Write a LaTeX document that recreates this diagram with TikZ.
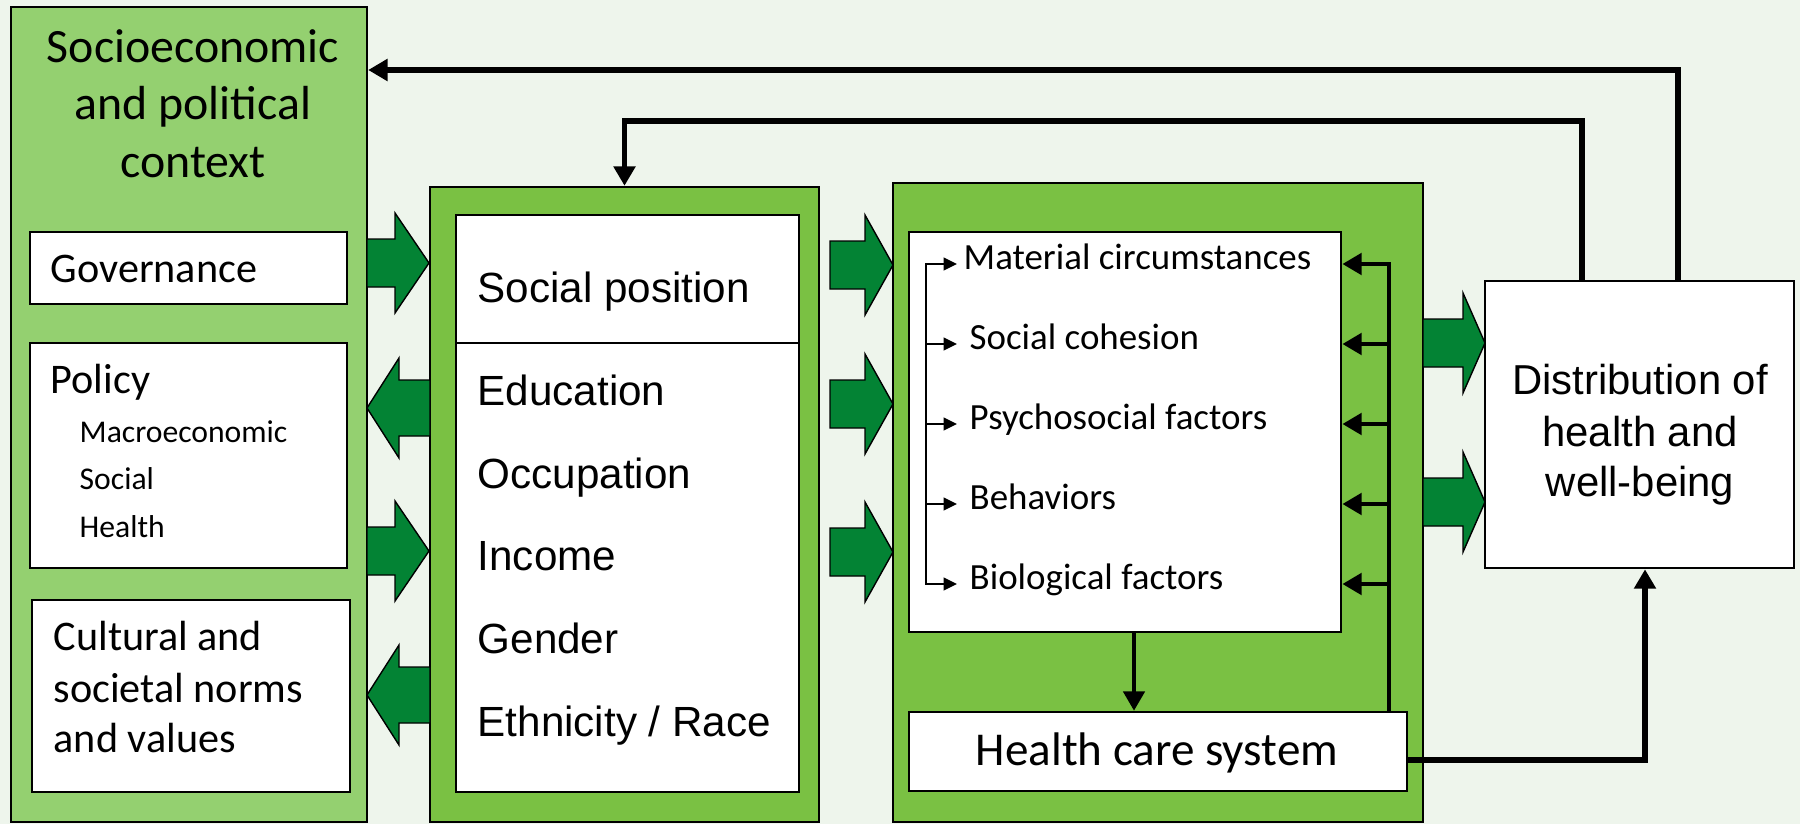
\documentclass[tikz,border=0pt]{standalone}
\usepackage{fontspec}
\setmainfont{Carlito}
\newfontfamily\arialfont{Liberation Sans}
\usetikzlibrary{arrows.meta}

\definecolor{bgc}{RGB}{238,245,236}
\definecolor{ctxc}{RGB}{148,208,112}
\definecolor{grnc}{RGB}{122,193,67}
\definecolor{arrc}{RGB}{3,131,52}

\begin{document}
\begin{tikzpicture}[x=0.01cm, y=-0.01cm,
    panel/.style={draw, line width=0.6pt, inner sep=0pt},
    wbox/.style={draw, fill=white, line width=0.7pt, inner sep=0pt},
    lbl/.style={anchor=base west, inner sep=0pt},
    ctr/.style={anchor=base, inner sep=0pt},
    block/.style={draw, fill=arrc, line width=0.4pt, line join=miter},
    fb/.style={line width=1.6pt, -{Triangle[length=5.5pt, width=6pt]}},
    tick/.style={line width=0.6pt, -{Triangle[length=3.8pt, width=3.6pt]}}]
    \useasboundingbox (0,0) rectangle (1800,824);
    \fill[bgc] (0,0) rectangle (1800,824);

    % panels
    \node[panel, fill=ctxc, minimum width=3.56cm, minimum height=8.15cm] (ctx) at (189,414.5) {};
    \node[panel, fill=grnc, minimum width=3.89cm, minimum height=6.35cm] (pos) at (624.5,504.5) {};
    \node[panel, fill=grnc, minimum width=5.30cm, minimum height=6.39cm] (cond) at (1158,502.5) {};

    % white boxes
    \node[wbox, minimum width=3.17cm, minimum height=0.72cm] (gov) at (188.5,268) {};
    \node[wbox, minimum width=3.17cm, minimum height=2.25cm] (pol) at (188.5,455.5) {};
    \node[wbox, minimum width=3.18cm, minimum height=1.92cm] (cul) at (191,696) {};
    \node[wbox, minimum width=3.43cm, minimum height=1.28cm] (posh) at (627.5,279) {};
    \node[wbox, minimum width=3.43cm, minimum height=4.49cm] (posl) at (627.5,567.5) {};
    \node[wbox, minimum width=4.32cm, minimum height=4.00cm] (condin) at (1125,432) {};
    \node[wbox, minimum width=4.98cm, minimum height=0.79cm] (hcs) at (1158,751.5) {};
    \node[wbox, minimum width=3.09cm, minimum height=2.87cm] (dist) at (1639.5,424.5) {};

    % green block arrows between panels
    \foreach \xa/\xb/\xc/\yy/\s in {367/395/429/263/24, 430/399/367/408/28, 367/395/429/551/24,
                                     430/399/367/695/28, 830/865/893/265/24, 830/865/893/404/24,
                                     830/865/893/552/24, 1423/1463/1485/343/24, 1423/1463/1485/502/24} {
        \draw[block] (\xa,\yy-\s) -- (\xb,\yy-\s) -- (\xb,\yy-50) -- (\xc,\yy)
            -- (\xb,\yy+50) -- (\xb,\yy+\s) -- (\xa,\yy+\s) -- cycle;
    }

    % left panel texts
    \foreach \t/\yy [count=\i] in {Socioeconomic/62, and political/119, context/177}
        \node[ctr, font=\fontsize{13.6}{16}\selectfont] (title\i) at (193,\yy) {\t};
    \node[lbl, font=\fontsize{12}{14}\selectfont] (govt) at (50,282) {Governance};
    \node[lbl, font=\fontsize{12}{14}\selectfont] (polt) at (50,393) {Policy};
    \foreach \t/\yy [count=\i] in {Macroeconomic/442, Social/489, Health/537}
        \node[lbl, font=\fontsize{9}{10}\selectfont] (sub\i) at (79,\yy) {\t};
    \foreach \t/\yy [count=\i] in {Cultural and/650, societal norms/702, and values/752}
        \node[lbl, font=\fontsize{12}{14}\selectfont] (cul\i) at (53,\yy) {\t};

    % social position texts
    \node[lbl, font=\arialfont\fontsize{12}{14}\selectfont] (spt) at (477,302) {Social position};
    \foreach \t/\yy [count=\i] in {Education/405, Occupation/488, Income/570, Gender/653, {Ethnicity / Race}/736}
        \node[lbl, font=\arialfont\fontsize{12}{14}\selectfont] (sp\i) at (477,\yy) {\t};

    % intermediary factors
    \foreach \t/\xx/\yy [count=\i] in {Material circumstances/963/264, Social cohesion/969/344,
                                       Psychosocial factors/969/424, Behaviors/969/504, Biological factors/969/584} {
        \coordinate (r\i) at (926,\yy);
        \node[lbl, font=\fontsize{10.5}{12}\selectfont] (m\i) at (\xx,\yy+5) {\t};
    }
    \node[ctr, font=\fontsize{13.4}{16}\selectfont] (hcst) at (1157,765) {Health care system};

    % outcome
    \foreach \t/\yy [count=\i] in {Distribution of/394, health and/446, well-being/496}
        \node[ctr, font=\arialfont\fontsize{11.9}{14}\selectfont] (dt\i) at (1640,\yy) {\t};

    % connectors
    \coordinate (tp) at (957,0);
    \draw[line width=0.6pt, {Triangle[length=3.8pt, width=3.6pt]}-{Triangle[length=3.8pt, width=3.6pt]}]
        (tp |- r1) -- (r1) -- (r5) -- (tp |- r5);
    \foreach \i in {2,3,4}
        \draw[tick] (r\i) -- (tp |- r\i);

    \coordinate (bus) at (1389,0);
    \draw[fb, line width=1.4pt] (bus |- hcs.north) -- (bus |- r1) -- (condin.east |- r1);
    \foreach \i in {2,...,5}
        \draw[fb, line width=1.4pt] (bus |- r\i) -- (condin.east |- r\i);

    \coordinate (dn) at (1134,0);
    \draw[fb, line width=1.2pt] (dn |- condin.south) -- (dn |- hcs.north);

    \coordinate (hx) at (1645,760);
    \draw[fb] (hx -| hcs.east) -- (hx) -- (hx |- dist.south);

    \coordinate (fbA) at (1678,70);
    \coordinate (fbB) at (1582,121);
    \draw[fb] (fbA |- dist.north) -- (fbA) -- (fbA -| ctx.east);
    \draw[fb] (fbB |- dist.north) -- (fbB) -- (pos.north |- fbB) -- (pos.north);
\end{tikzpicture}
\end{document}
